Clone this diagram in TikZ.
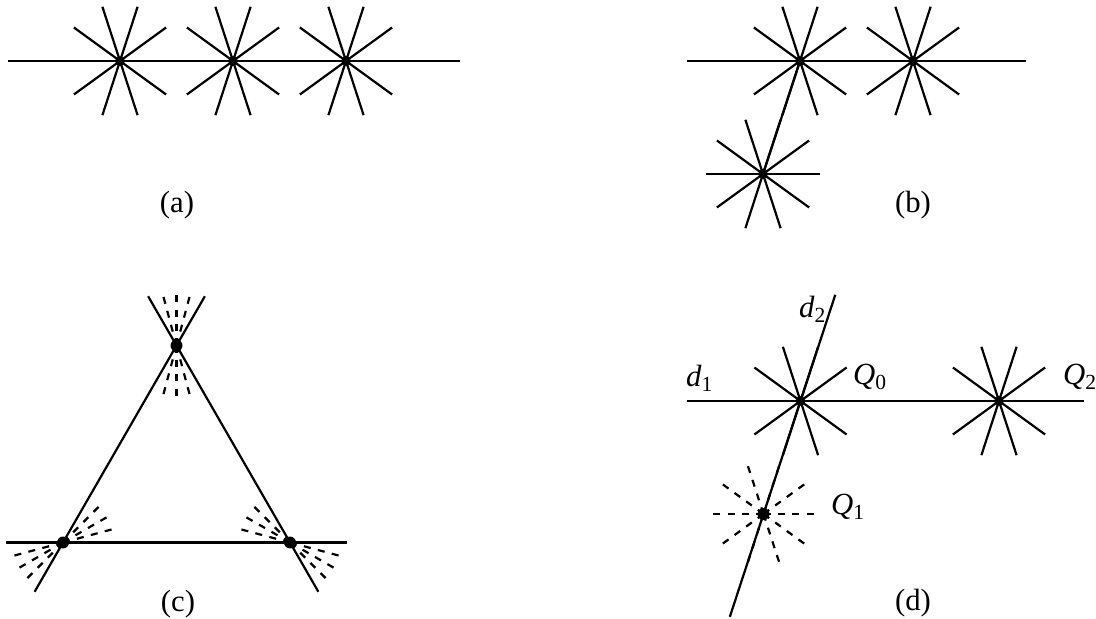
\documentclass[tikz,border=0pt]{standalone}
\usepackage{fontspec}
\setmainfont{Liberation Serif}
\usetikzlibrary{calc}

\newcommand{\spokes}[2][]{\foreach \ang in {0,36,...,324}{\draw[#1] (#2.center) -- ++(\ang:57);}}
\newcommand{\fan}[2]{\foreach \ang in {#2}{\draw[dsh] (#1.center) -- ++(\ang:57);}}

\begin{document}
\begin{tikzpicture}[
  x=0.02cm, y=0.02cm,
  line width=1.25pt,
  font=\fontsize{17.5}{21}\selectfont,
  dot/.style={circle, fill, inner sep=0pt, minimum size=5.5pt},
  bigdot/.style={dot, minimum size=6.8pt},
  dsh/.style={dash pattern=on 4pt off 4.2pt},
  lbl/.style={inner sep=0pt, anchor=base west},
  subcap/.style={inner sep=0pt}
]
\useasboundingbox (0,0) rectangle (1096,619);
% ---------------- (a) ----------------
\node[dot] (a1) at (120,558) {};
\node[dot] (a2) at (233,558) {};
\node[dot] (a3) at (346,558) {};
\coordinate (aL) at (8,558);
\coordinate (aR) at (460,558);
\draw (aL) -- (aR);
\spokes{a1} \spokes{a2} \spokes{a3}
\node[subcap] (capa) at (177,414) {(a)};
% ---------------- (b) ----------------
\node[dot] (b1) at (800,558) {};
\node[dot] (b2) at (913,558) {};
\node[dot] (b3) at (763,445) {};
\coordinate (bL) at (687,558);
\coordinate (bR) at (1026,558);
\draw (bL) -- (bR);
\draw (b1.center) -- (b3.center);
\spokes{b1} \spokes{b2} \spokes{b3}
\node[subcap] (capb) at (913,414) {(b)};
% ---------------- (c) ----------------
\node[bigdot] (c1) at (63,76.5) {};
\node[bigdot] (c2) at (290,76.5) {};
\node[bigdot] (c3) at (176.5,273.5) {};
\draw ($(c1)!-0.25!(c2)$) -- ($(c2)!-0.25!(c1)$);
\draw ($(c1)!-0.25!(c3)$) -- ($(c3)!-0.25!(c1)$);
\draw ($(c2)!-0.25!(c3)$) -- ($(c3)!-0.25!(c2)$);
\fan{c1}{15,30,45,195,210,225}
\fan{c2}{135,150,165,315,330,345}
\fan{c3}{75,90,105,255,270,285}
\node[subcap] (capc) at (178,15) {(c)};
% ---------------- (d) ----------------
\node[dot] (q0) at (800.5,218) {};
\node[dot] (q2) at (999,218) {};
\node[bigdot] (q1) at (763.5,105) {};
\coordinate (dL) at (687,218);
\coordinate (dR) at (1084,218);
\draw (dL) -- (dR);
\draw ($(q0)!-0.94!(q1)$) -- ($(q1)!-0.91!(q0)$);
\spokes{q0} \spokes{q2} \spokes[dsh]{q1}
\node[lbl] (ld2) at (798,301) {\textit{d}\textsubscript{2}};
\node[lbl] (ld1) at (685,232) {\textit{d}\textsubscript{1}};
\node[lbl] (lq0) at (852,234) {\textit{Q}\textsubscript{0}};
\node[lbl] (lq2) at (1062,234) {\textit{Q}\textsubscript{2}};
\node[lbl] (lq1) at (830,104) {\textit{Q}\textsubscript{1}};
\node[subcap] (capd) at (913,16) {(d)};
\end{tikzpicture}
\end{document}
